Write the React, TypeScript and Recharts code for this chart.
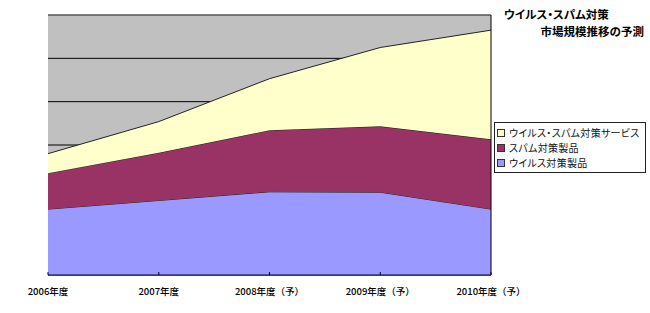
import React from 'react';
import { AreaChart, Area, XAxis, YAxis, CartesianGrid, ReferenceLine, Legend } from 'recharts';

const years = ['2006年度', '2007年度', '2008年度（予）', '2009年度（予）', '2010年度（予）'];
const virusProducts = [152, 172, 192, 191, 152];
const spamProducts = [83, 110, 142, 152, 161];
const services = [45, 72, 119, 182, 252];
const yTicks = [0, 100, 200, 300, 400, 500, 600];

const SERIES = [
  { key: 'virus', name: 'ウイルス対策製品', color: '#9999FF' },
  { key: 'spam', name: 'スパム対策製品', color: '#993366' },
  { key: 'service', name: 'ウイルス・スパム対策サービス', color: '#FFFFCC' },
];

const data = years.map((year, i) => ({
  year,
  virus: virusProducts[i],
  spam: spamProducts[i],
  service: services[i],
}));

const FONT = '"Noto Sans CJK JP", "Noto Sans", sans-serif';

// tick mark points up into the plot, label sits below the axis
const YearTick = (props: any) => {
  const { x, y, payload } = props;
  return (
    <g>
      <line x1={x} x2={x} y1={y} y2={y - 3} stroke="#000033" />
      <text x={x} y={y + 20} textAnchor="middle" fontSize={9.5} fontWeight={500} fontFamily={FONT} fill="#000">
        {payload.value}
      </text>
    </g>
  );
};

// value axis has no labels, only the gridlines
const NoTick = () => <g />;

const LegendBox = () => (
  <div
    style={{
      border: '1px solid #222',
      background: '#fff',
      width: 148,
      padding: '2px 0 2px 2px',
      fontFamily: FONT,
      fontSize: 10,
      lineHeight: '15px',
      color: '#111',
    }}
  >
    {[...SERIES].reverse().map((s) => (
      <div key={s.key} style={{ display: 'flex', alignItems: 'center', whiteSpace: 'nowrap' }}>
        <span
          style={{
            display: 'inline-block',
            width: 6,
            height: 6,
            border: '1px solid #333',
            background: s.color,
            marginRight: 4,
          }}
        />
        <span style={{ fontFeatureSettings: '"palt"', letterSpacing: 0.3 }}>{s.name}</span>
      </div>
    ))}
  </div>
);

export default function App() {
  return (
    <div style={{ position: 'absolute', left: 0, top: 0, width: 650, height: 313, background: '#fff' }}>
      <AreaChart width={650} height={313} data={data} margin={{ top: 15, right: 159, left: 48, bottom: 8 }}>
        <CartesianGrid vertical={false} fill="#C0C0C0" stroke="#000" fillOpacity={1} />
        <XAxis
          dataKey="year"
          height={30}
          tickSize={0}
          tickMargin={0}
          tickLine={false}
          axisLine={{ stroke: '#000033' }}
          tick={<YearTick />}
          interval={0}
        />
        <YAxis
          domain={[0, 600]}
          ticks={yTicks}
          width={0}
          tick={<NoTick />}
          tickLine={false}
          axisLine={{ stroke: '#222' }}
        />
        {SERIES.map((s) => (
          <Area
            key={s.key}
            type="linear"
            dataKey={s.key}
            name={s.name}
            stackId="a"
            fill={s.color}
            fillOpacity={1}
            stroke="#222"
            strokeWidth={1}
            isAnimationActive={false}
          />
        ))}
        <ReferenceLine y={600} stroke="#808080" />
        <ReferenceLine x={years[years.length - 1]} stroke="#000" />
        <Legend
          layout="vertical"
          align="center"
          verticalAlign="middle"
          content={<LegendBox />}
          wrapperStyle={{ position: 'absolute', left: 494, top: 122, width: 152 }}
        />
      </AreaChart>
      <div
        style={{
          position: 'absolute',
          left: 504,
          top: 8,
          fontFamily: FONT,
          fontWeight: 'bold',
          fontSize: 11.5,
          lineHeight: '12px',
          fontFeatureSettings: '"palt"',
          color: '#000',
        }}
      >
        ウイルス・スパム対策
      </div>
      <div
        style={{
          position: 'absolute',
          right: 6,
          top: 25,
          fontFamily: FONT,
          fontWeight: 'bold',
          fontSize: 11.5,
          lineHeight: '12px',
          color: '#000',
        }}
      >
        市場規模推移の予測
      </div>
    </div>
  );
}
